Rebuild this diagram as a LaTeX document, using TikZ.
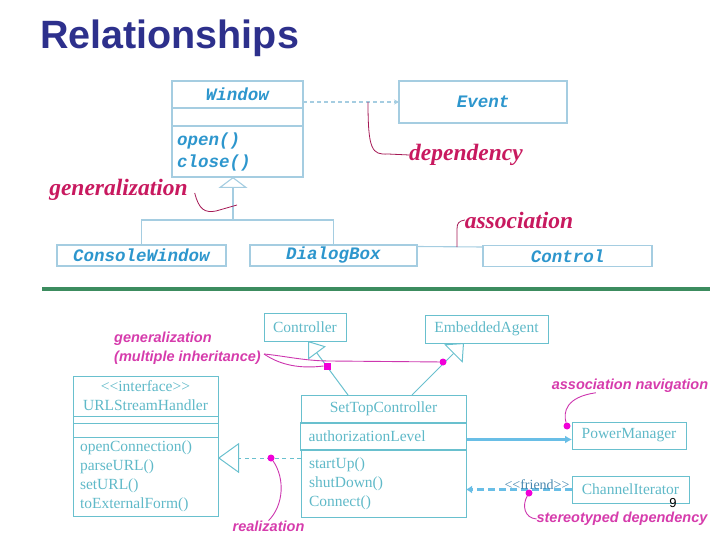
\documentclass[tikz,border=0pt]{standalone}
\usepackage{fontspec}
\usepackage{tikz}
\usetikzlibrary{positioning,arrows.meta}
\setmainfont{Liberation Serif}
\newfontfamily\arialfont{Liberation Sans}
\newfontfamily\courfont{Liberation Mono}
\definecolor{titleblue}{RGB}{45,48,140}
\definecolor{uplinec}{RGB}{165,205,225}
\definecolor{uptextc}{RGB}{45,150,205}
\definecolor{lowlinec}{RGB}{105,192,206}
\definecolor{lowtextc}{RGB}{95,185,200}
\definecolor{crimsonc}{RGB}{200,25,95}
\definecolor{crimsonline}{RGB}{165,25,85}
\definecolor{pinkc}{RGB}{214,60,172}
\definecolor{pinkline}{RGB}{205,55,175}
\definecolor{dotc}{RGB}{240,0,215}
\definecolor{barc}{RGB}{60,140,95}
\definecolor{navc}{RGB}{105,190,230}
\definecolor{friendc}{RGB}{70,135,175}
\newcommand{\stereo}[1]{\mbox{<}\mbox{<}#1\mbox{>}\mbox{>}}

\begin{document}
\begin{tikzpicture}[x=1pt, y=-1pt, inner sep=0pt, outer sep=0pt,
    upbox/.style={draw=uplinec, line width=1.1pt, text=uptextc, font=\courfont\bfseries\itshape\fontsize{17.5}{22}\selectfont},
    lowbox/.style={draw=lowlinec, line width=1pt, text=lowtextc, font=\fontsize{15.5}{19}\selectfont},
    upnote/.style={text=crimsonc, font=\bfseries\itshape\fontsize{23.5}{26}\selectfont},
    lownote/.style={text=pinkc, font=\arialfont\bfseries\itshape\fontsize{14.5}{19}\selectfont},
    upline/.style={draw=uplinec, line width=1.1pt},
    lowline/.style={draw=lowlinec, line width=1pt},
    upcurve/.style={draw=crimsonline, line width=0.8pt},
    lowcurve/.style={draw=pinkline, line width=0.9pt},
    magdot/.style={circle, fill=dotc, minimum size=7pt},
    magsq/.style={rectangle, fill=dotc, minimum size=7pt}]
    \useasboundingbox (0,0) rectangle (720,540);

    \node [anchor=base west, text=titleblue, font=\arialfont\bfseries\fontsize{39.5}{44}\selectfont] (title) at (40,49) {Relationships};

    % upper half
    \node [upbox, minimum width=131pt, minimum height=27pt] (winname) at (237.5,94.5) {Window};
    \node [upbox, minimum width=131pt, minimum height=18pt, below=0pt of winname] (winattr) {};
    \node [upbox, minimum width=131pt, minimum height=51pt, text width=121pt, align=left, below=0pt of winattr] (winops) {open()\\close()};
    \node [upbox, minimum width=168pt, minimum height=42pt] (event) at (483,102) {Event};
    \node [upbox, minimum width=169pt, minimum height=21pt] (console) at (141.5,255.5) {ConsoleWindow};
    \node [upbox, minimum width=167pt, minimum height=21pt] (dialog) at (333.5,255.5) {DialogBox};
    \node [upbox, minimum width=169pt, minimum height=21pt] (control) at (567.5,256) {Control};

    \node [upnote] (deplabel) at (466,155) {dependency};
    \node [upnote] (genlabel) at (118.5,190) {generalization};
    \node [upnote] (assoclabel) at (519,220) {association};

    \coordinate (genjoin) at (233,220);
    \coordinate (depfoot) at (368,102);
    \coordinate (genfoot) at (237,205);
    \coordinate (assocfoot) at (457,247);

    \draw [upline, line width=1.3pt, dash pattern=on 4pt off 3pt, -{Stealth[length=5pt,width=5pt]}] (winname.east |- event.west) -- (event.west);
    \draw [upline] (console.north) |- (genjoin) -| (dialog.north);
    \draw [upline, -{Triangle[open,length=11pt,width=29pt]}] (genjoin) -- (winops.south -| genjoin);
    \draw [upline] ([yshift=-1.5pt]dialog.north east) -- ([yshift=-1.5pt]control.north west);

    \draw [upcurve] (depfoot) .. controls (368,150) and (372,155) .. (388,154) -- (deplabel.west);
    \draw [upcurve] ([xshift=7pt,yshift=-3pt]genlabel.east) .. controls (199,210) and (205,213) .. (216,211) -- (genfoot);
    \draw [upcurve] (assocfoot) -- (457,229) .. controls (457,223) and (459,221) .. (assoclabel.west);

    \draw [barc, line width=4.5pt] (42,289) -- (710,289);

    % lower half
    \node [lowbox, minimum width=82pt, minimum height=28pt] (controller) at (305,327) {Controller};
    \node [lowbox, minimum width=123pt, minimum height=28pt] (embedded) at (486.5,329) {EmbeddedAgent};
    \node [lowbox, minimum width=165pt, minimum height=28pt] (settopname) at (383.5,409) {SetTopController};
    \node [lowbox, line width=1.6pt, minimum width=166pt, minimum height=27pt, text width=150pt, align=left, below=0pt of settopname] (settopattr) {authorizationLevel};
    \node [lowbox, minimum width=165pt, minimum height=67pt, text width=149pt, align=left, below=0pt of settopattr] (settopops) {startUp()\\shutDown()\\Connect()};

    \node [lowbox, minimum width=145pt, minimum height=40pt, align=center] (urlhead) at (145.5,396) {\stereo{interface}\\URLStreamHandler};
    \node [lowbox, minimum width=145pt, minimum height=7pt, below=0pt of urlhead] (urlattr) {};
    \node [lowbox, minimum width=145pt, minimum height=14pt, below=0pt of urlattr] (urlspace) {};
    \node [lowbox, minimum width=145pt, minimum height=79pt, text width=131pt, align=left, below=0pt of urlspace] (urlops) {openConnection()\\parseURL()\\setURL()\\toExternalForm()};

    \node [lowbox, minimum width=114pt, minimum height=27pt] (powerman) at (629,435.5) {PowerManager};
    \node [lowbox, minimum width=117pt, minimum height=27pt] (channel) at (630.5,489.5) {ChannelIterator};

    \node [lownote, align=left] (multilbl) at (187.5,348.5) {generalization\\(multiple inheritance)};
    \node [lownote] (navlbl) at (630,386) {association navigation};
    \node [lownote] (reallbl) at (268.5,526) {realization};
    \node [lownote] (stereolbl) at (622,519) {stereotyped dependency};
    \node [font=\arialfont\fontsize{13}{13}\selectfont] (pagenum) at (673,503) {9};

    \coordinate (mifork) at (264,354);
    \coordinate (realpos) at (271,458);

    \draw [lowline, -{Triangle[open,length=15pt,width=22pt]}] ([xshift=-35.5pt]settopname.north) -- ([xshift=3pt]controller.south);
    \draw [lowline, -{Triangle[open,length=15pt,width=26pt]}] ([xshift=28.5pt]settopname.north) -- ([xshift=-22.5pt]embedded.south);
    \draw [lowline, dash pattern=on 4pt off 3.5pt, -{Triangle[open,length=21pt,width=30pt]}] (settopops.west |- realpos) -- (urlops.east |- realpos);
    \draw [navc, line width=3.5pt, -{Latex[length=7pt,width=8pt]}] ([yshift=-3pt]settopattr.east) -- ([yshift=-3pt]settopattr.east -| powerman.west);
    \draw [navc, line width=3pt, dash pattern=on 7pt off 4pt, -{Latex[length=6pt,width=8pt]}] (channel.west) -- node [pos=0.33, yshift=4.5pt, text=friendc, font=\fontsize{14}{14}\selectfont] (friendlbl) {\stereo{friend}} (settopops.east |- channel.west);

    \node [magsq] (misq) at (327,366) {};
    \node [magdot] (midot) at (443,362) {};
    \node [magdot] (realpt) at (realpos) {};
    \node [magdot] (navpt) at (567,426) {};
    \node [magdot] (stereopt) at (529,493) {};

    \draw [lowcurve] (mifork) .. controls (285,356) and (305,361) .. (330,361) -- (midot);
    \draw [lowcurve] (mifork) .. controls (280,365) and (300,369) .. (misq.west);
    \draw [lowcurve] (realpt) .. controls (285,478) and (284,505) .. (reallbl.north);
    \draw [lowcurve] (navpt) .. controls (563,412) and (566,397) .. ([xshift=44pt]navlbl.south west);
    \draw [lowcurve] (stereopt) .. controls (522,505) and (524,518) .. (stereolbl.west);
\end{tikzpicture}
\end{document}
